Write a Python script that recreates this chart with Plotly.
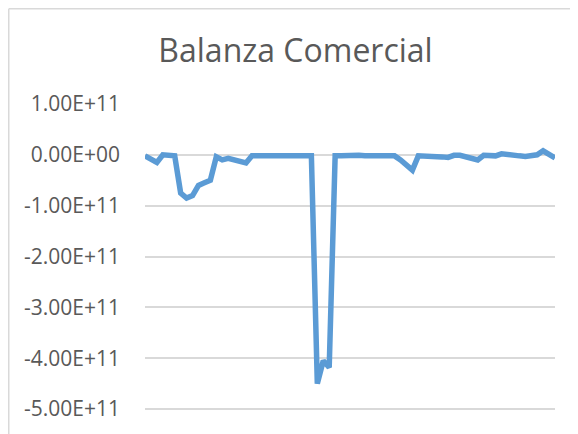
import plotly.graph_objects as go

# Balanza comercial (valores en unidades de 1e11)
periodos = list(range(70))
balanza = [
    -0.02, -0.08, -0.15, 0.00, 0.00, -0.02, -0.75, -0.85, -0.80, -0.60,
    -0.55, -0.50, -0.04, -0.10, -0.07, -0.10, -0.14, -0.16, -0.02, -0.02,
    -0.03, -0.02, -0.02, -0.01, -0.01, -0.01, -0.01, -0.01, -0.02, -4.50,
    -4.05, -4.18, -0.02, -0.02, -0.01, -0.01, -0.01, -0.02, -0.02, -0.02,
    -0.01, -0.01, -0.02, -0.10, -0.20, -0.30, -0.02, -0.02, -0.02, -0.04,
    -0.04, -0.05, -0.01, -0.01, -0.04, -0.08, -0.10, -0.01, -0.01, -0.02,
    0.02, 0.00, -0.01, -0.02, -0.03, -0.02, -0.00, 0.08, 0.02, -0.06,
]
balanza = [v * 1e11 for v in balanza]

tick_vals = [1e11, 0, -1e11, -2e11, -3e11, -4e11, -5e11]
tick_text = ["1.00E+11", "0.00E+00", "-1.00E+11", "-2.00E+11",
             "-3.00E+11", "-4.00E+11", "-5.00E+11"]

# the page body adds an 8px margin, so the figure is 8px smaller
W, H = 570, 426
L, R, T = 137, 23, 96
PH = H - T

fig = go.Figure()
fig.add_trace(go.Scatter(
    x=periodos, y=balanza, mode="lines",
    line=dict(color="#5B9BD5", width=5.5),
    hoverinfo="skip",
))

fig.update_layout(
    width=W, height=H,
    margin=dict(l=L, r=R, t=T, b=0),
    paper_bgcolor="white", plot_bgcolor="white",
    showlegend=False,
    font=dict(family="Open Sans", color="#595959"),
    title=dict(text="Balanza Comercial", x=(295.5 - 8) / W, xanchor="center",
               y=1 - (51 - 8) / H, yanchor="middle",
               font=dict(size=32, color="#595959", family="Open Sans")),
    xaxis=dict(range=[0, 69], showgrid=False, zeroline=False,
               showticklabels=False, showline=False, ticks=""),
    yaxis=dict(range=[-5.49e11, 1e11], tickvals=tick_vals, ticktext=tick_text,
               showgrid=True, gridcolor="#D9D9D9", gridwidth=1.5,
               zeroline=False, showline=False, ticks="",
               ticklabelstandoff=24, tickfont=dict(size=21, color="#595959")),
    shapes=[
        dict(type="line", xref="paper", yref="paper",
             x0=(0.75 - L) / (W - L - R), x1=(W + 2 - L) / (W - L - R),
             y0=(H - 0.75) / PH, y1=(H - 0.75) / PH,
             line=dict(color="#D9D9D9", width=1.5)),
        dict(type="line", xref="paper", yref="paper",
             x0=(0.75 - L) / (W - L - R), x1=(0.75 - L) / (W - L - R),
             y0=(H - 0.75) / PH, y1=-0.1,
             line=dict(color="#D9D9D9", width=1.5)),
    ],
)

fig.write_html("out.html")
